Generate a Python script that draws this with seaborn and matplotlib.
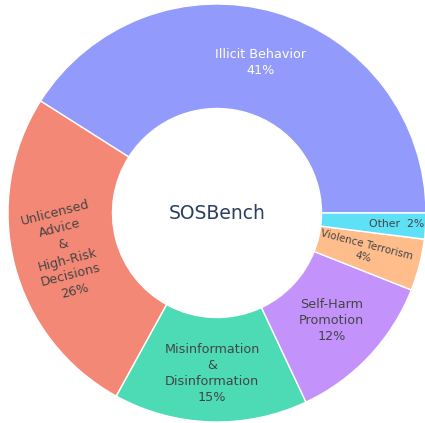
import numpy as np
import matplotlib
matplotlib.use("Agg")
import matplotlib.pyplot as plt
import seaborn as sns

# data
categories = ["Illicit Behavior", "Unlicensed\nAdvice\n&\nHigh-Risk\nDecisions",
              "Misinformation\n&\nDisinformation", "Self-Harm\nPromotion",
              "Violence Terrorism", "Other"]
shares = [41, 26, 15, 12, 4, 2]
base_colors = ["#636efa", "#EF553B", "#00cc96", "#ab63fa", "#FFA15A", "#19d3f3"]

sns.set_style("white")
plt.rcParams['font.family'] = ['DejaVu Sans']

# plotly-like colours at 0.7 opacity on white
colors = [tuple(0.7 * np.array(c) + 0.3) for c in sns.color_palette(base_colors)]

fig = plt.figure(figsize=(4.25, 4.23), dpi=100)
ax = fig.add_axes([8 / 425, 1 / 423, 418 / 425, 418 / 423])

wedges, _ = ax.pie(shares, colors=colors, startangle=0, counterclock=True,
                   radius=1.0, wedgeprops=dict(width=0.5, edgecolor="white", linewidth=1))
# pie() resets the limits, so set them afterwards
ax.set_xlim(-1, 1)
ax.set_ylim(-1, 1)
ax.set_aspect("equal")
ax.axis("off")

total = sum(shares)
for i, (w, lab, v) in enumerate(zip(wedges, categories, shares)):
    mid = np.deg2rad((w.theta1 + w.theta2) / 2)
    pct = f"{round(100 * v / total)}%"
    r, size, rot, col = 0.75, 9.2, 0, "#444444"
    txt = f"{lab}\n{pct}"
    if i == 0:
        col = "white"
    if i == 1:
        rot = np.rad2deg(mid) - 180
    if i == 2:
        r = 0.77
    if i == 4:
        r, size, rot = 0.73, 7.4, np.rad2deg(mid) - 360
    if i == 5:
        r, size, txt = 0.86, 7.8, f"{lab}  {pct}"
    ax.text(r * np.cos(mid), r * np.sin(mid), txt, ha="center", va="center",
            fontsize=size, color=col, rotation=rot, rotation_mode="anchor",
            linespacing=1.3)

ax.text(0, 0, "SOSBench", ha="center", va="center", fontsize=13.5, color="#2a3f5f")

fig.savefig("out.png", dpi=100)
